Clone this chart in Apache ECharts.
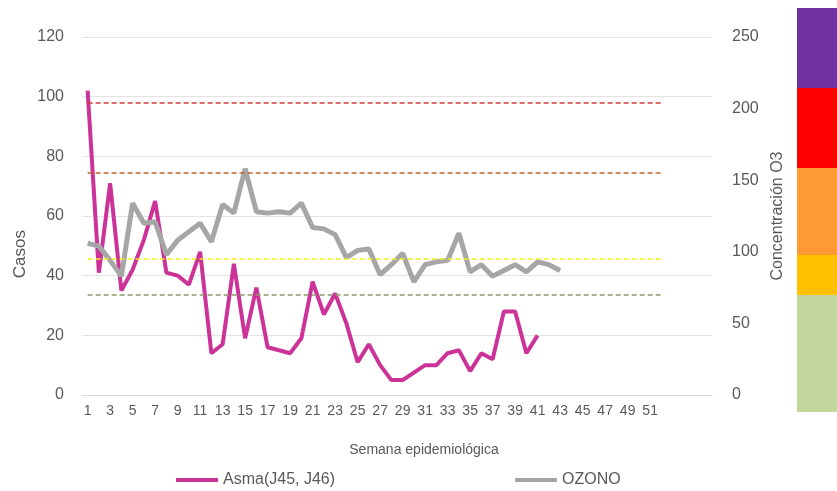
<!DOCTYPE html>
<html>
<head>
<meta charset="utf-8">
<script src="https://cdn.jsdelivr.net/npm/echarts@6/dist/echarts.min.js"></script>
<style>
  html, body { margin: 0; padding: 0; background: #fff; }
  #chart { width: 837px; height: 491px; }
</style>
</head>
<body>
<div id="chart"></div>
<script>
// semanas epidemiologicas (los ultimos huecos vacios como en el original)
var semanas = ['1','2','3','4','5','6','7','8','9','10','11','12','13','14','15','16','17','18','19','20',
  '21','22','23','24','25','26','27','28','29','30','31','32','33','34','35','36','37','38','39','40',
  '41','42','43','44','45','46','47','48','49','50','51','52','','','',''];

// casos de asma (J45, J46)
var asma = [102, 41, 71, 35, 42, 52, 65, 41, 40, 37, 48, 14, 17, 44, 19, 36, 16, 15, 14, 19,
  38, 27, 34, 24, 11, 17, 10, 5, 5, 7.5, 10, 10, 14, 15, 8, 14, 12, 28, 28, 14, 20];

// concentracion de ozono
var ozono = [106, 104, 94, 83, 134, 120, 121, 98, 108, 114, 120, 107, 133, 127, 158, 128, 127, 128, 127, 134,
  117, 116, 112, 96, 101, 102, 84, 91, 99, 79, 91, 93, 94, 113, 86, 91, 83, 87, 91, 86,
  93, 91, 87];

// limites de ozono (lineas punteadas)
var limites = [70, 95, 155, 204];
var coloresLimite = ['#8c9a6e', '#f2ee1a', '#c0682a', '#d93a3a'];

// escala de colores a la derecha (de abajo hacia arriba)
var bandas = [117, 40, 87, 80, 80];
var coloresBanda = ['#c3d69b', '#ffc000', '#fd9a35', '#ff0000', '#7030a0'];

var gris = '#595959';
var fuente = 'Liberation Sans';

var lineasLimite = limites.map(function (v, i) {
  return [
    { coord: ['1', v], lineStyle: { color: coloresLimite[i] } },
    { coord: ['52', v] }
  ];
});

var seriesBandas = bandas.map(function (v, i) {
  return {
    type: 'bar', xAxisIndex: 1, yAxisIndex: 2, stack: 'banda',
    barWidth: '100%', silent: true,
    itemStyle: { color: coloresBanda[i] },
    data: [v]
  };
});

var myChart = echarts.init(document.getElementById('chart'));
var option = {
  backgroundColor: '#fff',
  animation: false,
  textStyle: { fontFamily: fuente },
  grid: [
    { left: 82, right: 125, top: 37, bottom: 96 },
    { left: 797, width: 40, top: 8, bottom: 79 }
  ],
  legend: {
    data: ['Asma(J45, J46)', 'OZONO'],
    left: 171, top: 467,
    icon: 'rect', itemWidth: 42, itemHeight: 4, itemGap: 180,
    textStyle: { color: gris, fontSize: 16, fontFamily: fuente }
  },
  graphic: [{
    type: 'text', left: 12, top: 230, rotation: Math.PI / 2,
    style: { text: 'Casos', fill: gris, font: '17px ' + fuente }
  }],
  xAxis: [{
    type: 'category',
    data: semanas,
    boundaryGap: true,
    name: 'Semana epidemiológica',
    nameLocation: 'middle', nameGap: 48,
    nameTextStyle: { color: gris, fontSize: 14, padding: [0, 0, 0, 54] },
    axisLine: { lineStyle: { color: '#d9d9d9' } },
    axisTick: { show: false },
    axisLabel: { interval: 1, color: gris, fontSize: 14, margin: 9 }
  }, {
    type: 'category', gridIndex: 1, data: [''], show: false
  }],
  yAxis: [{
    type: 'value', min: 0, max: 120, interval: 20,
    axisLine: { show: false }, axisTick: { show: false },
    axisLabel: { color: gris, fontSize: 16, margin: 18 },
    splitLine: { lineStyle: { color: '#e3e3e3' } }
  }, {
    type: 'value', min: 0, max: 250, interval: 50, position: 'right',
    name: 'Concentración O3', nameLocation: 'middle', nameGap: 56, nameRotate: 90,
    nameTextStyle: { color: gris, fontSize: 16 },
    axisLine: { show: false }, axisTick: { show: false },
    axisLabel: { color: gris, fontSize: 16, margin: 20 },
    splitLine: { show: false }
  }, {
    type: 'value', gridIndex: 1, min: 0, max: 404, show: false
  }],
  series: [{
    name: 'Asma(J45, J46)',
    type: 'line', yAxisIndex: 0,
    data: asma,
    symbol: 'none',
    itemStyle: { color: '#cc3399' },
    lineStyle: { color: '#cc3399', width: 4 }
  }, {
    name: 'OZONO',
    type: 'line', yAxisIndex: 1,
    data: ozono,
    symbol: 'none',
    itemStyle: { color: '#a6a6a6' },
    lineStyle: { color: '#a6a6a6', width: 5 },
    markLine: {
      silent: true, symbol: 'none',
      label: { show: false },
      lineStyle: { type: [5, 3], width: 1.5 },
      data: lineasLimite
    }
  }].concat(seriesBandas)
};
myChart.setOption(option);
</script>
</body>
</html>
